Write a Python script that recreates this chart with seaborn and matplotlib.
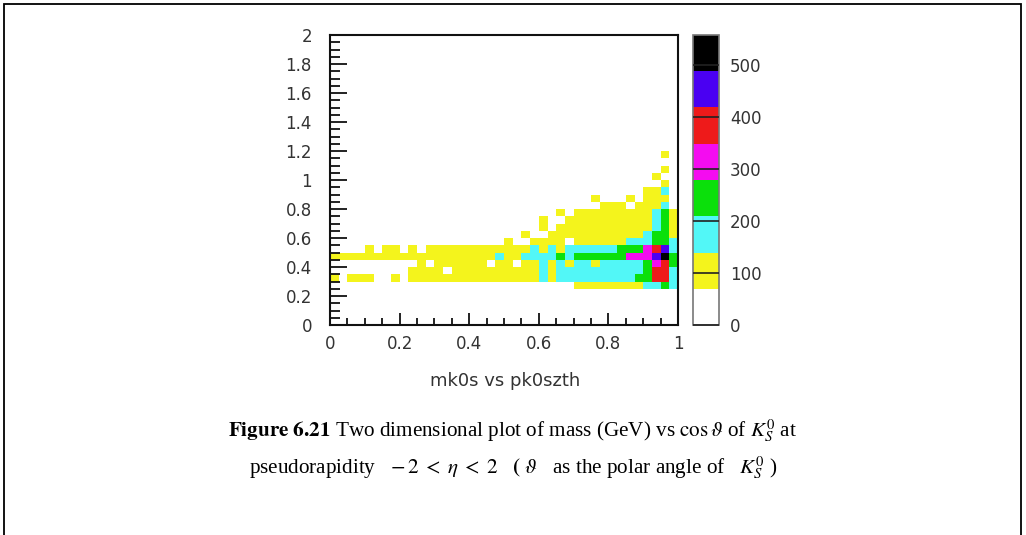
import numpy as np
import pandas as pd
import matplotlib
matplotlib.use("Agg")
import matplotlib.pyplot as plt
from matplotlib.colors import ListedColormap
from matplotlib.patches import Rectangle
from matplotlib.ticker import MultipleLocator, FuncFormatter
import seaborn as sns

# ---------------- data ----------------
# bin edges of the 2D histogram: x = pk0szth (cos theta), y = mk0s (mass, GeV)
cos_edges = np.linspace(0.0, 1.0, 41)    # 40 bins of 0.025
mass_edges = np.linspace(0.0, 2.0, 41)   # 40 bins of 0.05

# counts per cos-theta bin (40 bins) for each mass bin (lower edge in the name)
m025 = [0,0,0,0,0,0,0,0,0,0, 0,0,0,0,0,0,0,0,0,0, 0,0,0,0,0,0,0,0,100,100, 100,100,100,100,100,100,170,170,240,170]
m030 = [100,0,100,100,100,0,0,100,0,100, 100,100,100,100,100,100,100,100,100,100, 100,100,100,100,170,100,170,170,170,170, 170,170,170,170,170,240,240,380,380,170]
m035 = [0,0,0,0,0,0,0,0,0,100, 100,100,100,0,100,100,100,100,100,100, 100,100,100,100,170,100,170,170,170,170, 170,170,170,170,170,170,240,380,380,170]
m040 = [0,0,0,0,0,0,0,0,0,0, 100,0,100,100,100,100,100,100,0,100, 100,0,100,100,170,100,170,100,170,170, 100,170,170,170,170,170,240,310,380,240]
m045 = [100,100,100,100,100,100,100,100,100,100, 100,100,100,100,100,100,100,100,100,170, 100,100,170,170,170,170,240,170,240,240, 240,240,240,240,310,310,310,450,520,240]
m050 = [0,0,0,0,100,0,100,100,0,100, 0,100,100,100,100,100,100,100,100,100, 100,100,100,170,100,170,100,170,170,170, 170,170,170,240,240,240,310,380,450,170]
m055 = [0,0,0,0,0,0,0,0,0,0, 0,0,0,0,0,0,0,0,0,0, 100,0,0,100,100,100,100,0,100,100, 100,100,100,100,170,170,170,240,240,170]
m060 = [0,0,0,0,0,0,0,0,0,0, 0,0,0,0,0,0,0,0,0,0, 0,0,100,0,0,100,100,100,100,100, 100,100,100,100,100,100,170,240,240,100]
m065 = [0,0,0,0,0,0,0,0,0,0, 0,0,0,0,0,0,0,0,0,0, 0,0,0,0,100,0,100,100,100,100, 100,100,100,100,100,100,100,170,240,100]
m070 = [0,0,0,0,0,0,0,0,0,0, 0,0,0,0,0,0,0,0,0,0, 0,0,0,0,100,0,0,100,100,100, 100,100,100,100,100,100,100,170,240,100]
m075 = [0,0,0,0,0,0,0,0,0,0, 0,0,0,0,0,0,0,0,0,0, 0,0,0,0,0,0,100,0,100,100, 100,100,100,100,100,100,100,170,240,100]
m080 = [0,0,0,0,0,0,0,0,0,0, 0,0,0,0,0,0,0,0,0,0, 0,0,0,0,0,0,0,0,0,0, 0,100,100,100,0,100,100,100,170,0]
m085 = [0,0,0,0,0,0,0,0,0,0, 0,0,0,0,0,0,0,0,0,0, 0,0,0,0,0,0,0,0,0,0, 100,0,0,0,100,0,100,100,100,0]
m090 = [0,0,0,0,0,0,0,0,0,0, 0,0,0,0,0,0,0,0,0,0, 0,0,0,0,0,0,0,0,0,0, 0,0,0,0,0,0,100,100,170,0]
m095 = [0,0,0,0,0,0,0,0,0,0, 0,0,0,0,0,0,0,0,0,0, 0,0,0,0,0,0,0,0,0,0, 0,0,0,0,0,0,0,0,100,0]
m100 = [0,0,0,0,0,0,0,0,0,0, 0,0,0,0,0,0,0,0,0,0, 0,0,0,0,0,0,0,0,0,0, 0,0,0,0,0,0,0,100,0,0]
m105 = [0,0,0,0,0,0,0,0,0,0, 0,0,0,0,0,0,0,0,0,0, 0,0,0,0,0,0,0,0,0,0, 0,0,0,0,0,0,0,0,100,0]
m110 = [0,0,0,0,0,0,0,0,0,0, 0,0,0,0,0,0,0,0,0,0, 0,0,0,0,0,0,0,0,0,0, 0,0,0,0,0,0,0,0,0,0]
m115 = [0,0,0,0,0,0,0,0,0,0, 0,0,0,0,0,0,0,0,0,0, 0,0,0,0,0,0,0,0,0,0, 0,0,0,0,0,0,0,0,100,0]

mass_low = [0.25, 0.30, 0.35, 0.40, 0.45, 0.50, 0.55, 0.60, 0.65, 0.70,
            0.75, 0.80, 0.85, 0.90, 0.95, 1.00, 1.05, 1.10, 1.15]
mass_rows = [m025, m030, m035, m040, m045, m050, m055, m060, m065, m070,
             m075, m080, m085, m090, m095, m100, m105, m110, m115]

z_ticks = [0, 100, 200, 300, 400, 500]
z_max = 557
palette_colors = ["#ffffff", "#f4f41c", "#52f7f7", "#0be00b",
                  "#f40cf0", "#ee1a1a", "#4a00f2", "#000000"]

# ---------------- build table ----------------
cos_centers = 0.5 * (cos_edges[:-1] + cos_edges[1:])
recs = []
for mlow, row in zip(mass_low, mass_rows):
    for xc, c in zip(cos_centers, row):
        if c > 0:
            recs.append((xc, mlow + 0.025, c))
df = pd.DataFrame(recs, columns=["pk0szth", "mk0s", "counts"])

# ---------------- figure ----------------
sns.set_style("white")
plt.rcParams["font.family"] = ["DejaVu Sans"]
plt.rcParams["mathtext.fontset"] = "stix"
plt.rcParams["axes.axisbelow"] = False

W, H = 1026, 535
fig = plt.figure(figsize=(W / 100, H / 100), dpi=100)
fig.patch.set_facecolor("white")

def fx(px):
    return px / W

def fy(py):
    return 1 - py / H

ax = fig.add_axes([fx(330), fy(325), fx(678) - fx(330), fy(35) - fy(325)])
cax = fig.add_axes([fx(693), fy(325), fx(719) - fx(693), fy(35) - fy(325)])

cmap = ListedColormap(palette_colors)
sns.histplot(data=df, x="pk0szth", y="mk0s", weights="counts",
             bins=[cos_edges, mass_edges], cmap=cmap, vmin=0, vmax=z_max,
             cbar=True, cbar_ax=cax, ax=ax)

txt_col = "#333333"
ax.set_axisbelow(False)
ax.set_xlim(0, 1)
ax.set_ylim(0, 2)
ax.set_xlabel("")
ax.set_ylabel("")
ax.xaxis.set_major_locator(MultipleLocator(0.2))
ax.yaxis.set_major_locator(MultipleLocator(0.2))
ax.xaxis.set_minor_locator(MultipleLocator(0.05))
ax.yaxis.set_minor_locator(MultipleLocator(0.05))
fmt = FuncFormatter(lambda v, p: "%g" % round(v, 2))
ax.xaxis.set_major_formatter(fmt)
ax.yaxis.set_major_formatter(fmt)
ax.tick_params(axis="both", which="both", direction="in", top=False, right=False,
               left=True, bottom=True,
               colors="#111111", labelcolor=txt_col, labelsize=12, width=1.3)
ax.tick_params(axis="y", which="major", length=12, pad=13)
ax.tick_params(axis="y", which="minor", length=7)
ax.tick_params(axis="x", which="major", length=9, pad=7)
ax.tick_params(axis="x", which="minor", length=5)
for s in ax.spines.values():
    s.set_visible(True)
    s.set_color("#111111")
    s.set_linewidth(1.5)

cbar = ax.collections[0].colorbar
cbar.ax.set_axisbelow(False)
cbar.set_ticks(z_ticks)
cbar.ax.yaxis.set_major_formatter(FuncFormatter(lambda v, p: "%d" % v))
cbar.ax.minorticks_off()
cbar.ax.tick_params(which="major", direction="in", right=True, left=False,
                    length=18.5, width=1.2, colors="#222222",
                    labelcolor=txt_col, labelsize=12, pad=8)
cbar.outline.set_edgecolor("#777777")
cbar.outline.set_linewidth(1.2)

fig.text(fx(505), fy(381), "mk0s vs pk0szth", ha="center", va="center",
         fontsize=13, color=txt_col)

# caption
cap1 = (r"$\mathbf{Figure\ 6.21}$ Two dimensional plot of mass (GeV) vs "
        r"$\cos\vartheta$ of $K_S^0$ at")
cap2 = (r"pseudorapidity   $-\,2\;<\;\eta\;<\;2$   $\mathbf{(}$ $\vartheta$   as the "
        r"polar angle of   $K_S^0$ )")
fig.text(0.5, fy(431), cap1, ha="center", va="center", fontsize=15.2,
         family=["Liberation Serif"], color="black")
fig.text(0.5, fy(468), cap2, ha="center", va="center", fontsize=15.2,
         family=["Liberation Serif"], color="black")

# outer frame
fig.add_artist(Rectangle((fx(4), -0.05), fx(1021) - fx(4), fy(4) + 0.05,
                         transform=fig.transFigure, fill=False,
                         edgecolor="black", linewidth=1.3))

fig.savefig("out.png", dpi=100)
